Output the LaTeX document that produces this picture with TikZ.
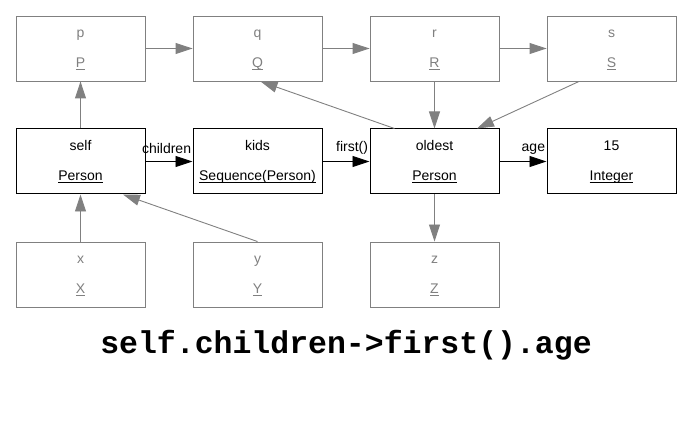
\documentclass[tikz,border=0pt]{standalone}
\usepackage{fontspec}
\setmainfont{Liberation Sans}
\newfontfamily\codefont{Liberation Mono}
\usetikzlibrary{arrows.meta}
\definecolor{muted}{RGB}{128,128,128}
\newcommand{\card}[2]{\vphantom{Ag}#1\\[14pt]\underline{\smash{#2}}}

\begin{document}
\begin{tikzpicture}[x=1pt, y=-1pt]
  \tikzstyle{obj}=[rectangle, draw, minimum width=129pt, minimum height=65pt, inner sep=0pt, align=center, font=\fontsize{14}{16}\selectfont, line width=1pt, fill=white]
  \tikzstyle{faint}=[draw=muted, text=muted, line width=0.9pt]
  \tikzstyle{link}=[-{Triangle[length=17pt, width=11pt]}, line width=0.9pt]
  \tikzstyle{role}=[pos=1, anchor=south east, inner sep=1pt, yshift=6pt, font=\fontsize{14}{16}\selectfont]

  \useasboundingbox (0,0) rectangle (692,435);

  \node[obj, faint] (p)      at (80.5,  48.5)  {\card{p}{P}};
  \node[obj, faint] (q)      at (257.5, 48.5)  {\card{q}{Q}};
  \node[obj, faint] (r)      at (434.5, 48.5)  {\card{r}{R}};
  \node[obj, faint] (s)      at (611.5, 48.5)  {\card{s}{S}};
  \node[obj]        (self)   at (80.5,  161.5) {\card{self}{Person}};
  \node[obj]        (kids)   at (257.5, 161.5) {\card{kids}{Sequence(Person)}};
  \node[obj]        (oldest) at (434.5, 161.5) {\card{oldest}{Person}};
  \node[obj]        (age)    at (611.5, 161.5) {\card{15}{Integer}};
  \node[obj, faint] (x)      at (80.5,  274.5) {\card{x}{X}};
  \node[obj, faint] (y)      at (257.5, 274.5) {\card{y}{Y}};
  \node[obj, faint] (z)      at (434.5, 274.5) {\card{z}{Z}};

  \node[font=\codefont\bfseries\fontsize{31.5}{34}\selectfont] (expr) at (346, 345) {self.children->first().age};

  \path (p) edge[link, muted] (q);
  \path (q) edge[link, muted] (r);
  \path (r) edge[link, muted] (s);
  \path (self) edge[link, muted] (p);
  \path (r) edge[link, muted] (oldest);
  \path ([xshift=-32.5pt]s.south) edge[link, muted] ([xshift=42.5pt]oldest.north);
  \path ([xshift=-40pt]oldest.north) edge[link, muted] ([xshift=3pt]q.south);
  \path (x) edge[link, muted] (self);
  \path (y.north) edge[link, muted] ([xshift=42.5pt]self.south);
  \path (oldest) edge[link, muted] (z);

  \path (self) edge[link] node[role] {children} (kids);
  \path (kids) edge[link] node[role] {first()} (oldest);
  \path (oldest) edge[link] node[role] {age} (age);
\end{tikzpicture}
\end{document}
